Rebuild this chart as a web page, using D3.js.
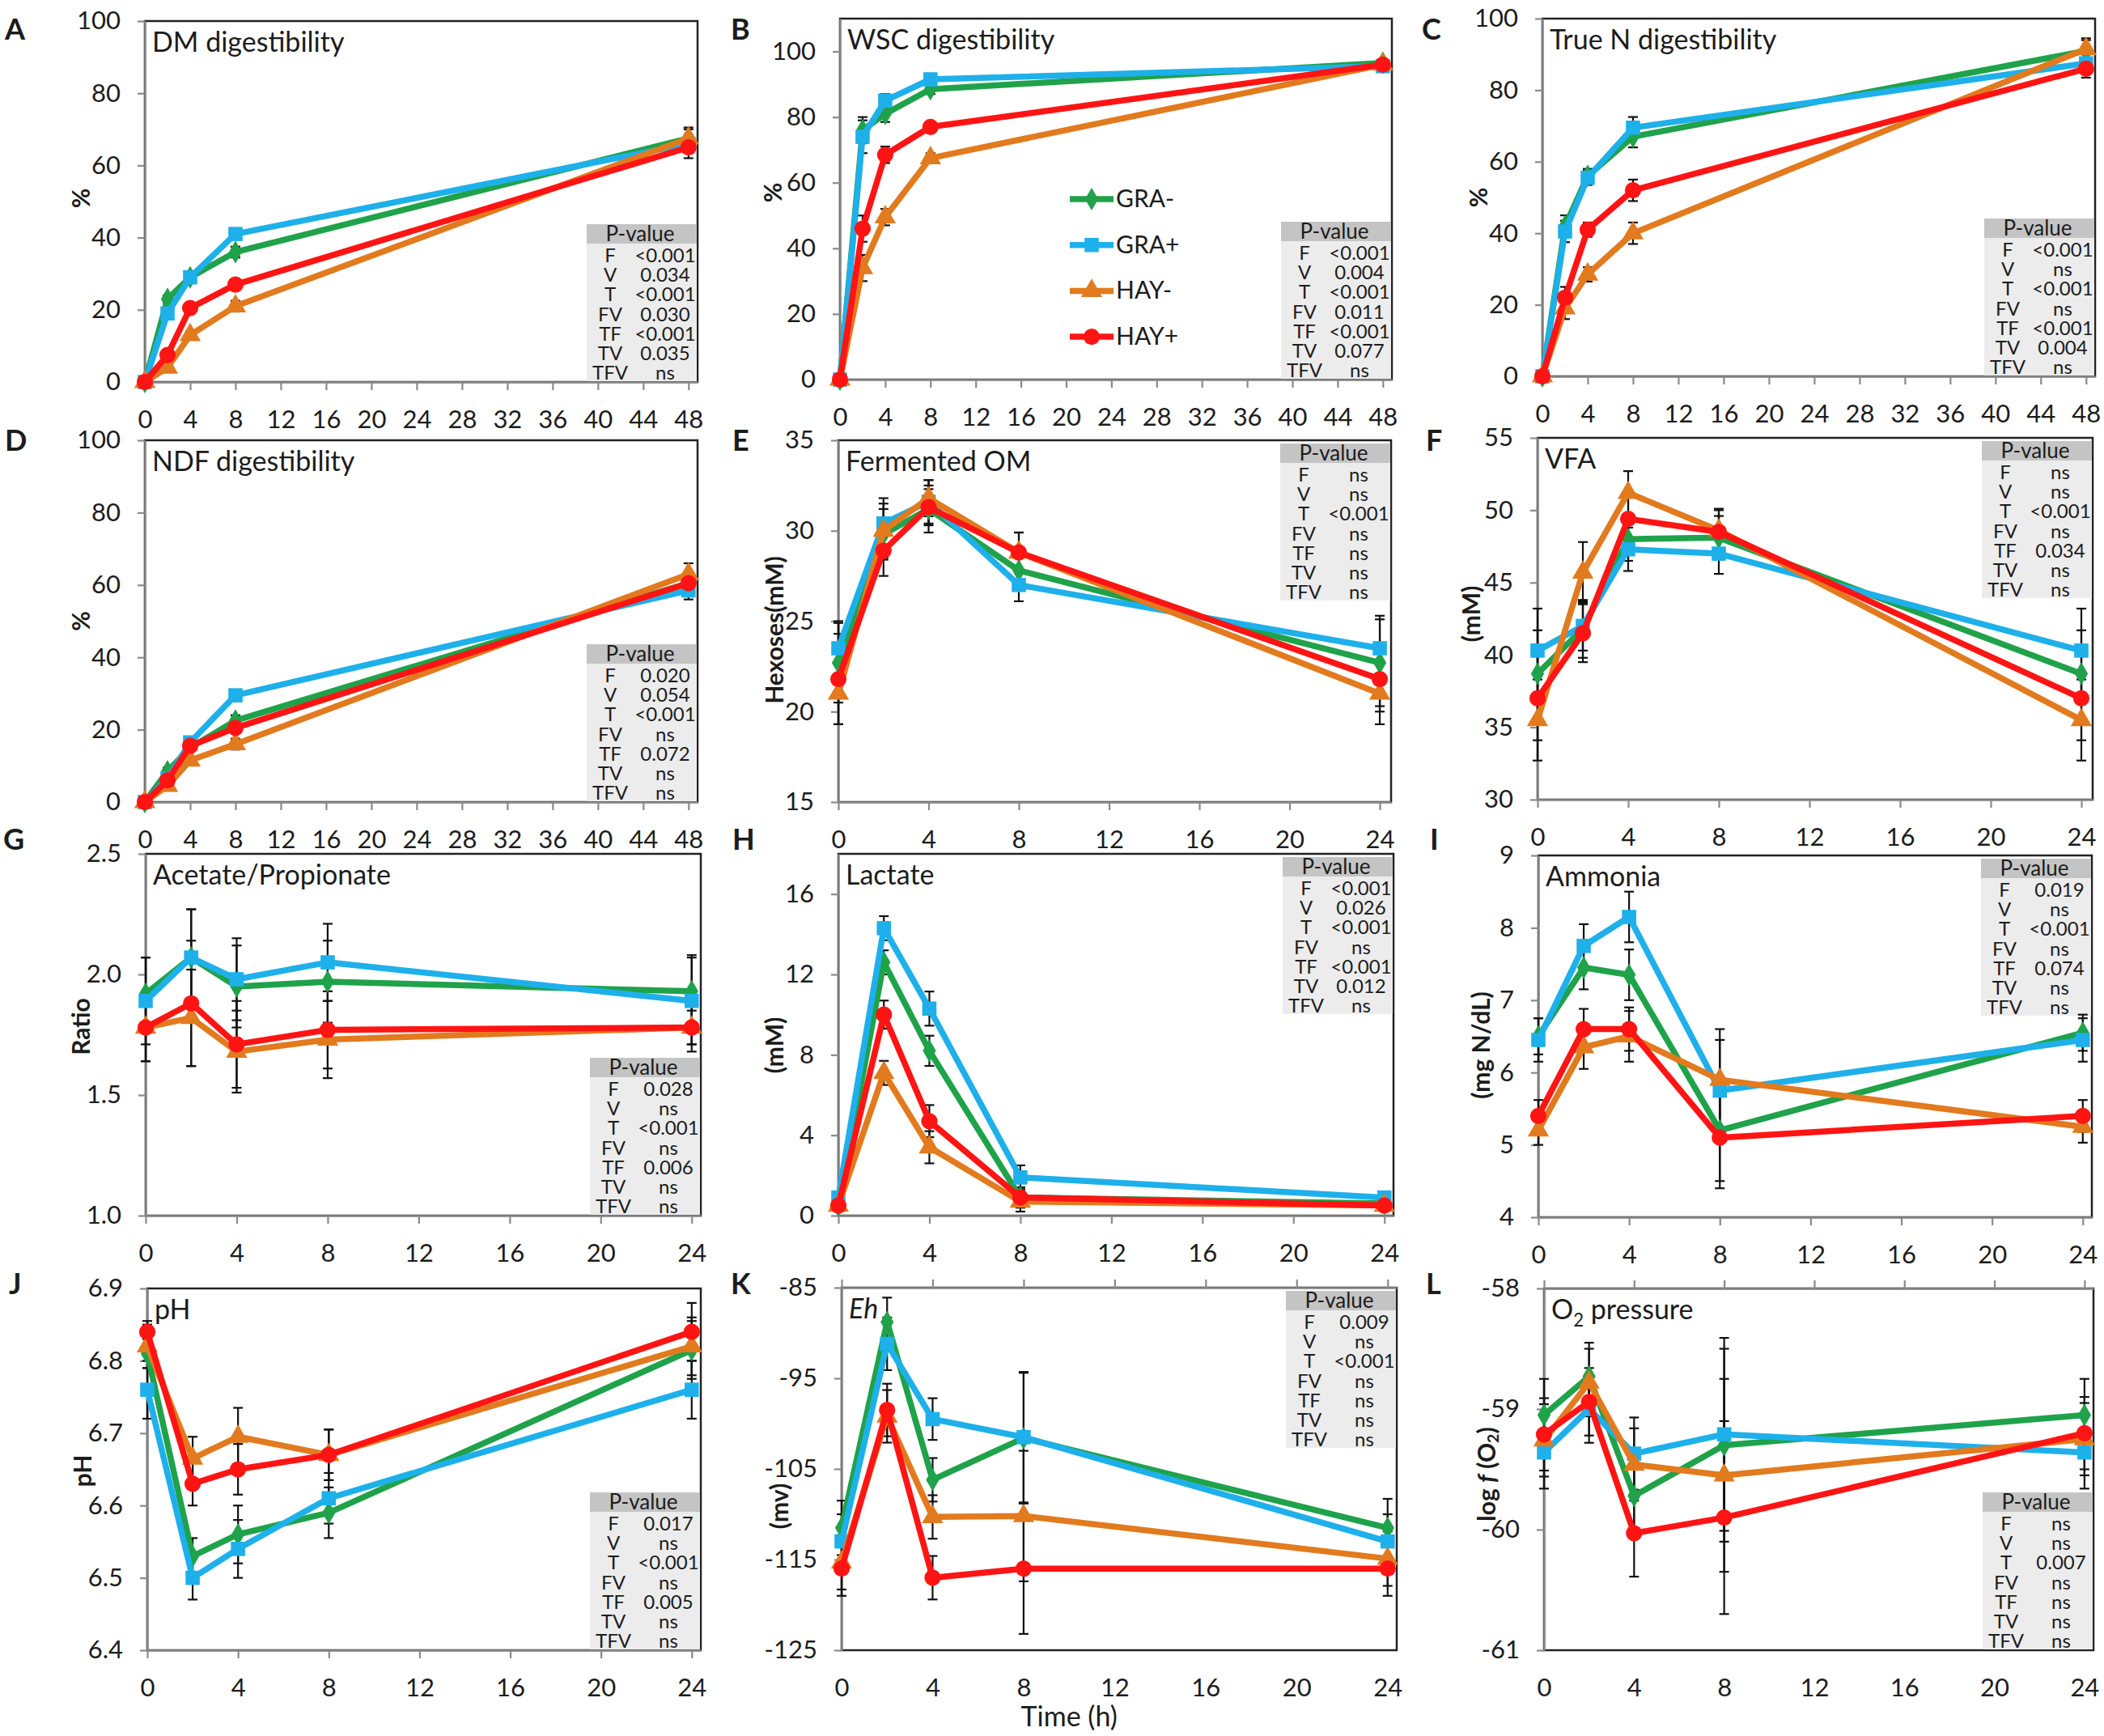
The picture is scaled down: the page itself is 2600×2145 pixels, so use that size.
<!DOCTYPE html>
<html>
<head>
<meta charset="utf-8">
<script src="https://cdn.jsdelivr.net/npm/d3@7"></script>
<style>
  body { margin: 0; background: #fff; }
  svg text { font-family: Lato, "Open Sans", sans-serif; fill: #1c1c1c; }
</style>
</head>
<body>
<svg id="fig" width="2600" height="2145"></svg>
<script>
// ---- data ----
const hoursLong = [0, 2, 4, 8, 48];
const hoursShort = [0, 2, 4, 8, 24];
const groupNames = ["GRA-", "GRA+", "HAY-", "HAY+"];
const pTerms = ["F", "V", "T", "FV", "TF", "TV", "TFV"];

const xLongTicks = [0, 4, 8, 12, 16, 20, 24, 28, 32, 36, 40, 44, 48];
const xShortTicks = [0, 4, 8, 12, 16, 20, 24];
const pctTicks = [0, 20, 40, 60, 80, 100];
const hexTicks = [15, 20, 25, 30, 35];
const vfaTicks = [30, 35, 40, 45, 50, 55];
const ratioTicks = [1.0, 1.5, 2.0, 2.5];
const lacTicks = [0, 4, 8, 12, 16];
const nh3Ticks = [4, 5, 6, 7, 8, 9];
const phTicks = [6.4, 6.5, 6.6, 6.7, 6.8, 6.9];
const ehTicks = [-125, -115, -105, -95, -85];
const o2Ticks = [-61, -60, -59, -58];

// A  DM digestibility
const dmMean = [[0, 23, 29, 36, 67.5], [0, 19, 29, 41, 66], [0, 4, 13, 21, 67.5], [0, 7.5, 20.5, 27, 65]];
const dmErr  = [[0.5, 1, 1, 1.5, 2.5], [0.5, 1, 1, 1, 2.5], [0.3, 1, 1, 1.5, 3], [0.3, 1, 1, 1.5, 3]];
const dmP = ["<0.001", "0.034", "<0.001", "0.030", "<0.001", "0.035", "ns"];

// B  WSC digestibility
const wscMean = [[0, 76, 81, 88.5, 96.5], [0, 74, 85, 91.5, 95.5], [0, 34, 49.5, 67.5, 96], [0, 46, 68.5, 77, 96]];
const wscErr  = [[0, 4, 2.5, 1.5, 1], [0, 5, 2, 1, 1], [0, 4, 2.5, 1.5, 1], [0, 4, 2.5, 1.5, 1]];
const wscP = ["<0.001", "0.004", "<0.001", "0.011", "<0.001", "0.077", "ns"];

// C  True N digestibility
const tnMean = [[0, 42, 56, 67, 91], [0, 40.5, 55.5, 69.5, 87.5], [0, 19, 28.5, 40, 91.5], [0, 22, 41, 52, 86]];
const tnErr  = [[0, 3, 2, 3, 3], [0, 3, 2, 3, 2.5], [0, 3, 2, 3, 3], [0, 3, 2, 3, 2.5]];
const tnP = ["<0.001", "ns", "<0.001", "ns", "<0.001", "0.004", "ns"];

// D  NDF digestibility
const ndfMean = [[0, 8.5, 15, 22.5, 60.5], [0, 6.5, 16.5, 29.5, 58.5], [0, 4.5, 11.5, 16, 63], [0, 6, 15.5, 20.5, 60.5]];
const ndfErr  = [[0, 1, 1, 1.5, 3], [0, 1, 1, 1, 2.5], [0, 1, 1, 1.5, 3], [0, 1, 1, 1.5, 3]];
const ndfP = ["0.020", "0.054", "<0.001", "ns", "0.072", "ns", "ns"];

// E  Fermented OM
const omMean = [[22.7, 29.8, 31.2, 27.8, 22.7], [23.5, 30.4, 31.6, 27.0, 23.5], [21.0, 30.0, 31.8, 28.8, 21.0], [21.8, 28.9, 31.3, 28.8, 21.8]];
const omErr  = [[2.2, 1.4, 1.3, 1.1, 2.4], [1.5, 1.4, 1.2, 0.9, 1.8], [1.7, 1.5, 1.0, 1.1, 1.7], [2.5, 1.4, 1.0, 1.1, 1.8]];
const omP = ["ns", "ns", "<0.001", "ns", "ns", "ns", "ns"];

// F  VFA
const vfaMean = [[38.7, 41.8, 48.0, 48.1, 38.7], [40.3, 42.0, 47.3, 47.0, 40.3], [35.5, 45.7, 51.2, 48.6, 35.5], [37.0, 41.5, 49.4, 48.5, 37.0]];
const vfaErr  = [[3.0, 2.0, 1.5, 1.5, 3.0], [2.9, 1.7, 1.5, 1.4, 2.9], [2.8, 2.1, 1.5, 1.5, 2.8], [2.9, 2.0, 1.5, 1.5, 2.9]];
const vfaP = ["ns", "ns", "<0.001", "ns", "0.034", "ns", "ns"];

// G  Acetate/Propionate
const apMean = [[1.92, 2.07, 1.95, 1.97, 1.93], [1.89, 2.07, 1.98, 2.05, 1.89], [1.78, 1.82, 1.68, 1.73, 1.78], [1.78, 1.88, 1.71, 1.77, 1.78]];
const apErr  = [[0.15, 0.2, 0.17, 0.17, 0.15], [0.18, 0.2, 0.17, 0.16, 0.18], [0.14, 0.2, 0.17, 0.16, 0.1], [0.14, 0.26, 0.18, 0.16, 0.07]];
const apP = ["0.028", "ns", "<0.001", "ns", "0.006", "ns", "ns"];

// H  Lactate
const lacMean = [[0.5, 12.6, 8.2, 0.9, 0.6], [0.9, 14.3, 10.3, 1.9, 0.9], [0.5, 7.1, 3.4, 0.7, 0.5], [0.5, 10.0, 4.7, 0.9, 0.5]];
const lacErr  = [[0.2, 0.6, 0.75, 0.5, 0.2], [0.2, 0.6, 0.85, 0.6, 0.2], [0.2, 0.6, 0.8, 0.5, 0.2], [0.2, 0.7, 0.8, 0.5, 0.2]];
const lacP = ["<0.001", "0.026", "<0.001", "ns", "<0.001", "0.012", "ns"];

// I  Ammonia
const nh3Mean = [[6.5, 7.45, 7.35, 5.2, 6.55], [6.45, 7.75, 8.15, 5.75, 6.45], [5.2, 6.35, 6.5, 5.9, 5.25], [5.4, 6.6, 6.6, 5.1, 5.4]];
const nh3Err  = [[0.25, 0.3, 0.35, 0.7, 0.25], [0.3, 0.3, 0.35, 0.7, 0.3], [0.2, 0.3, 0.35, 0.7, 0.22], [0.22, 0.28, 0.3, 0.7, 0.22]];
const nh3P = ["0.019", "ns", "<0.001", "ns", "0.074", "ns", "ns"];

// J  pH
const phMean = [[6.81, 6.53, 6.56, 6.59, 6.815], [6.76, 6.50, 6.54, 6.61, 6.76], [6.82, 6.665, 6.695, 6.67, 6.82], [6.84, 6.63, 6.65, 6.67, 6.84]];
const phErr  = [[0.02, 0.025, 0.04, 0.035, 0.04], [0.04, 0.03, 0.04, 0.035, 0.04], [0.03, 0.03, 0.04, 0.035, 0.04], [0.015, 0.03, 0.035, 0.035, 0.04]];
const phP = ["0.017", "ns", "<0.001", "ns", "0.005", "ns", "ns"];

// K  Eh
const ehMean = [[-111.5, -88.8, -106.2, -101.6, -111.5], [-113, -91.2, -99.5, -101.5, -113], [-115.3, -99.2, -110.3, -110.2, -114.9], [-116, -98.5, -117, -116, -116]];
const ehErr  = [[3, 2.7, 2.4, 7.2, 3.2], [3, 2.9, 2.3, 7.2, 3], [3, 2.9, 2.4, 7.2, 3], [3, 2.9, 2.4, 7.2, 3]];
const ehP = ["0.009", "ns", "<0.001", "ns", "ns", "ns", "ns"];

// L  O2 pressure
const o2Mean = [[-59.05, -58.73, -59.72, -59.3, -59.05], [-59.36, -59.0, -59.37, -59.21, -59.36], [-59.26, -58.78, -59.46, -59.55, -59.25], [-59.21, -58.94, -60.03, -59.9, -59.2]];
const o2Err  = [[0.3, 0.28, 0.3, 0.8, 0.3], [0.3, 0.28, 0.3, 0.8, 0.3], [0.3, 0.28, 0.3, 0.8, 0.3], [0.3, 0.28, 0.36, 0.8, 0.3]];
const o2P = ["ns", "ns", "0.007", "ns", "ns", "ns", "ns"];

// ---- look ----
const groupColors = ["#1fa24a", "#1eb0ea", "#e27a1e", "#ff1414"];
const groupShapes = [d3.symbolDiamond, d3.symbolSquare, d3.symbolTriangle, d3.symbolCircle];
const groupSizes = [230, 310, 300, 320];

const plain = d => String(d);
const oneDec = d3.format(".1f");

// layout: box = [left, top, width, height] of plot area
const panels = [
  { letter: "A", lx: 6, ly: 49, box: [179, 26, 683, 446], hours: hoursLong, xMax: 48.8, xTicks: xLongTicks,
    yDomain: [0, 100], yTicks: pctTicks, yFmt: plain, mean: dmMean, err: dmErr, p: dmP, pPos: "bottom",
    title: [["DM digestibility"]], yLabel: [["%"]], yLabelDx: -80, yLabelDy: -4 },
  { letter: "B", lx: 903, ly: 49, box: [1038, 23, 682, 446], hours: hoursLong, xMax: 48.8, xTicks: xLongTicks,
    yDomain: [0, 110], yTicks: pctTicks, yFmt: plain, mean: wscMean, err: wscErr, p: wscP, pPos: "bottom",
    title: [["WSC digestibility"]], yLabel: [["%"]], yLabelDx: -84, yLabelDy: -8, legend: true },
  { letter: "C", lx: 1757, ly: 49, box: [1906, 23, 683, 442], hours: hoursLong, xMax: 48.8, xTicks: xLongTicks,
    yDomain: [0, 100], yTicks: pctTicks, yFmt: plain, mean: tnMean, err: tnErr, p: tnP, pPos: "bottom",
    title: [["True N digestibility"]], yLabel: [["%"]], yLabelDx: -80, yLabelDy: 0 },
  { letter: "D", lx: 6, ly: 557, box: [179, 544, 683, 447], hours: hoursLong, xMax: 48.8, xTicks: xLongTicks,
    yDomain: [0, 100], yTicks: pctTicks, yFmt: plain, mean: ndfMean, err: ndfErr, p: ndfP, pPos: "bottom",
    title: [["NDF digestibility"]], yLabel: [["%"]], yLabelDx: -80, yLabelDy: 0 },
  { letter: "E", lx: 905, ly: 557, box: [1036, 544, 683, 447], hours: hoursShort, xMax: 24.5, xTicks: xShortTicks,
    yDomain: [15, 35], yTicks: hexTicks, yFmt: plain, mean: omMean, err: omErr, p: omP, pPos: "top",
    title: [["Fermented OM"]], yLabel: [["Hexoses(mM)"]], yLabelDx: -80, yLabelDy: 11 },
  { letter: "F", lx: 1762, ly: 557, box: [1900, 541, 686, 447], hours: hoursShort, xMax: 24.5, xTicks: xShortTicks,
    yDomain: [30, 55], yTicks: vfaTicks, yFmt: plain, mean: vfaMean, err: vfaErr, p: vfaP, pPos: "top",
    title: [["VFA"]], yLabel: [["(mM)"]], yLabelDx: -83, yLabelDy: -6 },
  { letter: "G", lx: 4, ly: 1050, box: [180, 1055, 686, 447], hours: hoursShort, xMax: 24.4, xTicks: xShortTicks,
    yDomain: [1.0, 2.5], yTicks: ratioTicks, yFmt: oneDec, mean: apMean, err: apErr, p: apP, pPos: "bottom",
    title: [["Acetate/Propionate"]], yLabel: [["Ratio"]], yLabelDx: -81, yLabelDy: -10 },
  { letter: "H", lx: 905, ly: 1050, box: [1036, 1055, 686, 447], hours: hoursShort, xMax: 24.4, xTicks: xShortTicks,
    yDomain: [0, 18], yTicks: lacTicks, yFmt: plain, mean: lacMean, err: lacErr, p: lacP, pPos: "top",
    title: [["Lactate"]], yLabel: [["(mM)"]], yLabelDx: -80, yLabelDy: 13 },
  { letter: "I", lx: 1767, ly: 1050, box: [1901, 1057, 684, 447], hours: hoursShort, xMax: 24.4, xTicks: xShortTicks,
    yDomain: [4, 9], yTicks: nh3Ticks, yFmt: plain, mean: nh3Mean, err: nh3Err, p: nh3P, pPos: "top",
    title: [["Ammonia"]], yLabel: [["(mg N/dL)"]], yLabelDx: -72, yLabelDy: 11 },
  { letter: "J", lx: 11, ly: 1599, box: [182, 1592, 684, 447], hours: hoursShort, xMax: 24.4, xTicks: xShortTicks,
    yDomain: [6.4, 6.9], yTicks: phTicks, yFmt: oneDec, mean: phMean, err: phErr, p: phP, pPos: "bottom",
    title: [["pH"]], yLabel: [["pH"]], yLabelDx: -81, yLabelDy: 2 },
  { letter: "K", lx: 903, ly: 1599, box: [1040, 1591, 686, 448], hours: hoursShort, xMax: 24.4, xTicks: xShortTicks,
    yDomain: [-125, -85], yTicks: ehTicks, yFmt: plain, mean: ehMean, err: ehErr, p: ehP, pPos: "top",
    title: [["Eh", "italic"]], yLabel: [["(mv)"]], yLabelDx: -78, yLabelDy: 46, topAxis: true, xLabel: "Time (h)" },
  { letter: "L", lx: 1762, ly: 1599, box: [1908, 1592, 679, 447], hours: hoursShort, xMax: 24.4, xTicks: xShortTicks,
    yDomain: [-61, -58], yTicks: o2Ticks, yFmt: plain, mean: o2Mean, err: o2Err, p: o2P, pPos: "bottom",
    title: [["O"], ["2", "sub"], [" pressure"]], yLabel: [["log "], ["f", "italic"], [" (O"], ["2", "sub"], [")"]],
    yLabelDx: -72, yLabelDy: 6, topAxis: true }
];

const svg = d3.select("#fig");

panels.forEach(drawPanel);

// text with italic / subscript pieces
function richText(sel, parts, size) {
  let shifted = false;
  parts.forEach(([t, style]) => {
    const ts = sel.append("tspan").text(t);
    if (style === "italic") ts.attr("font-style", "italic");
    if (style === "sub") {
      ts.attr("font-size", size * 0.65).attr("dy", size * 0.25);
      shifted = true;
    } else if (shifted) {
      ts.attr("dy", -size * 0.25);
      shifted = false;
    }
  });
}

function styleAxis(ax, fontSize) {
  ax.select(".domain").attr("stroke", "#8a8a8a").attr("stroke-width", 2.5);
  ax.selectAll(".tick line").attr("stroke", "#8a8a8a").attr("stroke-width", 2.2);
  ax.selectAll(".tick text").attr("font-size", fontSize).attr("fill", "#1c1c1c")
    .attr("font-family", "Lato, 'Open Sans', sans-serif");
}

function drawPanel(p) {
  const [bx, by, bw, bh] = p.box;
  const g = svg.append("g");

  const x = d3.scaleLinear().domain([0, p.xMax]).range([bx, bx + bw]);
  const y = d3.scaleLinear().domain(p.yDomain).range([by + bh, by]);

  // frame
  g.append("rect")
    .attr("x", bx).attr("y", by).attr("width", bw).attr("height", bh)
    .attr("fill", "none").attr("stroke", "#222").attr("stroke-width", 2.5);

  // P-value table
  const pw = 136, ph = 194;
  const px = bx + bw - pw - 1;
  const py = p.pPos === "top" ? by + 4 : by + bh - ph - 1;
  g.append("rect").attr("x", px).attr("y", py).attr("width", pw).attr("height", ph).attr("fill", "#ececec");
  g.append("rect").attr("x", px).attr("y", py).attr("width", pw).attr("height", 24).attr("fill", "#c4c4c4");
  g.append("text").attr("x", px + pw / 2 - 2).attr("y", py + 21)
    .attr("text-anchor", "middle").attr("font-size", 26).text("P-value");
  pTerms.forEach((t, i) => {
    g.append("text").attr("x", px + 29).attr("y", py + 47 + 24.2 * i)
      .attr("text-anchor", "middle").attr("font-size", 24).text(t);
    g.append("text").attr("x", px + 97).attr("y", py + 47 + 24.2 * i)
      .attr("text-anchor", "middle").attr("font-size", 24).text(p.p[i]);
  });

  // y axis
  const yAx = g.append("g").attr("transform", `translate(${bx},0)`)
    .call(d3.axisLeft(y).tickValues(p.yTicks).tickFormat(p.yFmt).tickSize(9).tickSizeOuter(0).tickPadding(21));
  styleAxis(yAx, 31);

  // x axis
  if (p.topAxis) {
    const tAx = g.append("g").attr("transform", `translate(0,${by})`)
      .call(d3.axisTop(x).tickValues(p.xTicks).tickFormat("").tickSize(10).tickSizeOuter(0));
    styleAxis(tAx, 31);
    const bAx = g.append("g").attr("transform", `translate(0,${by + bh})`)
      .call(d3.axisBottom(x).tickValues(p.xTicks).tickFormat(plain).tickSize(0).tickPadding(35));
    styleAxis(bAx, 31);
    bAx.select(".domain").remove();
  } else {
    const xAx = g.append("g").attr("transform", `translate(0,${by + bh})`)
      .call(d3.axisBottom(x).tickValues(p.xTicks).tickFormat(plain).tickSize(10).tickSizeOuter(0).tickPadding(25));
    styleAxis(xAx, 31);
  }

  // error bars (under the lines)
  p.mean.forEach((vals, s) => {
    vals.forEach((v, j) => {
      const e = p.err[s][j];
      if (!e) return;
      const cx = x(p.hours[j]);
      const y1 = y(v - e), y2 = y(v + e);
      g.append("line").attr("x1", cx).attr("x2", cx).attr("y1", y1).attr("y2", y2)
        .attr("stroke", "#111").attr("stroke-width", 2.2);
      [y1, y2].forEach(yy => g.append("line")
        .attr("x1", cx - 6).attr("x2", cx + 6).attr("y1", yy).attr("y2", yy)
        .attr("stroke", "#111").attr("stroke-width", 2.2));
    });
  });

  // series lines + markers
  const line = d3.line().x(d => x(d[0])).y(d => y(d[1]));
  p.mean.forEach((vals, s) => {
    const pts = vals.map((v, j) => [p.hours[j], v]);
    g.append("path").attr("d", line(pts)).attr("fill", "none")
      .attr("stroke", groupColors[s]).attr("stroke-width", 7.5).attr("stroke-linejoin", "round");
    g.selectAll(null).data(pts).enter().append("path")
      .attr("d", d3.symbol().type(groupShapes[s]).size(groupSizes[s]))
      .attr("transform", d => `translate(${x(d[0])},${y(d[1])})`)
      .attr("fill", groupColors[s]);
  });

  // title inside plot
  const tt = g.append("text").attr("x", bx + 9).attr("y", by + 38).attr("font-size", 34);
  richText(tt, p.title, 34);

  // y label
  const yl = g.append("text")
    .attr("transform", `translate(${bx + p.yLabelDx},${by + bh / 2 + p.yLabelDy}) rotate(-90)`)
    .attr("text-anchor", "middle").attr("dominant-baseline", "central")
    .attr("font-size", 30).attr("font-weight", "bold");
  richText(yl, p.yLabel, 30);

  // x label
  if (p.xLabel) {
    g.append("text").attr("x", bx + bw * 0.41).attr("y", by + bh + 94)
      .attr("text-anchor", "middle").attr("font-size", 34).text(p.xLabel);
  }

  // panel letter
  g.append("text").attr("x", p.lx).attr("y", p.ly)
    .attr("font-family", "'Liberation Sans', Arial, sans-serif")
    .attr("font-size", 36).attr("font-weight", "bold").text(p.letter);

  // legend (panel B)
  if (p.legend) {
    const lx0 = 1322, ly0 = 246, gap = 56.7;
    groupNames.forEach((name, s) => {
      const yy = ly0 + gap * s;
      g.append("line").attr("x1", lx0).attr("x2", lx0 + 54).attr("y1", yy).attr("y2", yy)
        .attr("stroke", groupColors[s]).attr("stroke-width", 7.5);
      g.append("path").attr("d", d3.symbol().type(groupShapes[s]).size(groupSizes[s])())
        .attr("transform", `translate(${lx0 + 27},${yy})`).attr("fill", groupColors[s]);
      g.append("text").attr("x", lx0 + 57).attr("y", yy + 10).attr("font-size", 30).text(name);
    });
  }
}
</script>
</body>
</html>
